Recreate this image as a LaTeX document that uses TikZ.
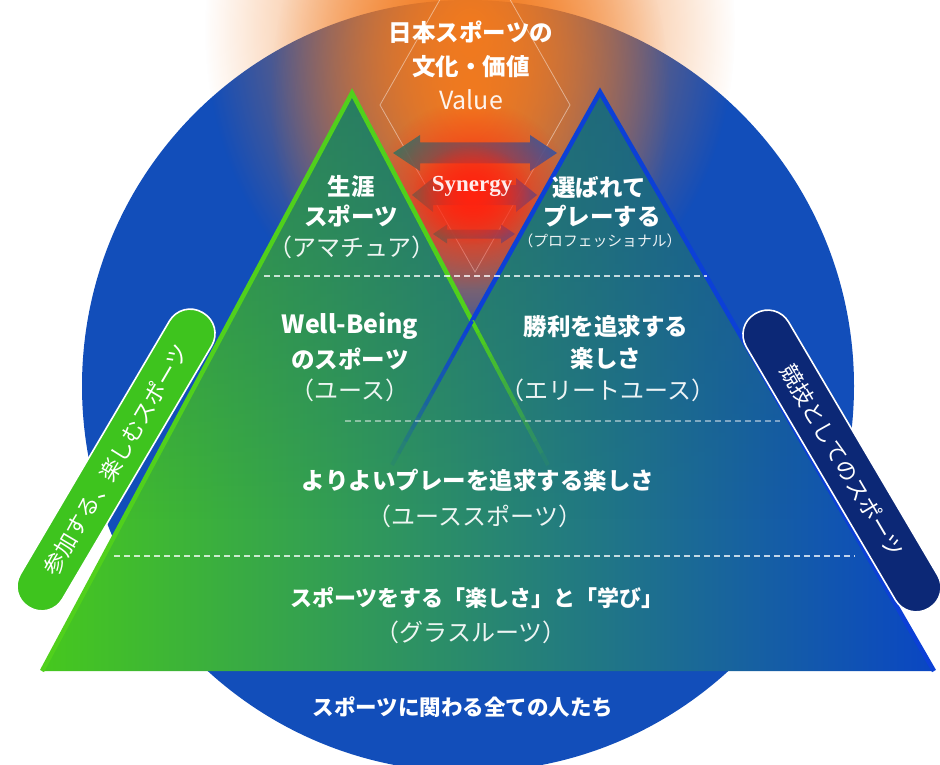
\documentclass[tikz,border=0pt]{standalone}
\usepackage{fontspec}
\setmainfont{Noto Sans CJK JP}
\newfontfamily\synfont{Liberation Serif}
\usetikzlibrary{fadings,calc}
\tikzfading[name=glowfade, inner color=transparent!0, outer color=transparent!100]
\tikzfading[name=topdark, top color=transparent!55, bottom color=transparent!100]
\definecolor{circblue}{RGB}{18,78,186}
\definecolor{glowor}{RGB}{242,122,30}
\definecolor{glowred}{RGB}{255,35,15}
\definecolor{grL}{RGB}{70,200,30}
\definecolor{grM}{RGB}{36,128,98}
\definecolor{grR}{RGB}{10,70,195}
\definecolor{darkteal}{RGB}{30,90,110}
\definecolor{edgegreen}{RGB}{80,208,28}
\definecolor{edgeblue}{RGB}{12,64,214}
\definecolor{arrL}{RGB}{44,122,100}
\definecolor{arrR}{RGB}{48,86,168}
\definecolor{pillgreen}{RGB}{62,196,30}
\definecolor{pillnavy}{RGB}{12,40,118}
\definecolor{synwhite}{RGB}{255,236,236}
\newcommand{\dblarr}[6]{%
  \shade[left color=arrL, right color=arrR, fill opacity=.92]
  (#1,#3) -- ({#1+#4},{#3-#6}) -- ({#1+#4},{#3-#5}) -- ({#2-#4},{#3-#5})
  -- ({#2-#4},{#3-#6}) -- (#2,#3) -- ({#2-#4},{#3+#6}) -- ({#2-#4},{#3+#5})
  -- ({#1+#4},{#3+#5}) -- ({#1+#4},{#3+#6}) -- cycle;}
\begin{document}
\begin{tikzpicture}[x=1pt,y=-1pt,
  txt/.style={text=white, font=\bfseries\fontsize{23.5}{27}\selectfont, inner sep=0pt},
  txtl/.style={text=white, text opacity=.92, font=\fontsize{24}{27}\selectfont, inner sep=0pt},
  txts/.style={text=white, text opacity=.92, font=\fontsize{14.8}{17}\selectfont, inner sep=0pt},
  dashline/.style={white, draw opacity=.75, line width=1.3pt, dash pattern=on 6pt off 4pt},
  pill/.style={draw=white, line width=1.6pt, rounded corners=24pt, minimum width=342pt,
     minimum height=49pt, text=white, font=\fontsize{22}{24}\selectfont, inner sep=0pt}]
\useasboundingbox (0,0) rectangle (940,765);
\clip (0,0) rectangle (940,765);
\fill[white] (0,0) rectangle (940,765);
% circle
\fill[circblue] (468,386) circle[radius=386pt];
% orange glow
\fill[glowor, path fading=glowfade] (470,30) ellipse[x radius=265pt, y radius=320pt];
\fill[glowor, path fading=glowfade] (470,100) ellipse[x radius=200pt, y radius=280pt];
% diamond
\draw[white, draw opacity=.45, line width=.8pt] (380,105) -- (475,272) -- (570,105) -- (475,-62) -- cycle;
% arrows
\dblarr{393}{557}{153}{27}{10.5}{18}
\dblarr{412}{537}{195}{21}{10}{17}
\dblarr{433}{515}{234}{14}{4.5}{9.5}
% red glow
\fill[glowred, path fading=glowfade] (472,195) ellipse[x radius=100pt, y radius=95pt];
\fill[glowred, path fading=glowfade] (472,195) ellipse[x radius=60pt, y radius=50pt];
% triangles
\coordinate (LA) at (352,93);
\coordinate (LB) at (42,671);
\coordinate (RA) at (600,92);
\coordinate (RB) at (934,671);
\coordinate (X) at (472,321);
\coordinate (LF) at (548,465);
\coordinate (RF) at (392,465);
\shade[left color=grL, middle color=grM, right color=grR] (LB) -- (LA) -- (X) -- (RA) -- (RB) -- cycle;
\begin{scope}
  \clip (LB) -- (LA) -- (X) -- (RA) -- (RB) -- cycle;
  \fill[darkteal, path fading=topdark] (0,90) rectangle (940,520);
\end{scope}
\draw[edgegreen, line width=4.5pt] (LB) -- (LA) -- (X);
\draw[edgeblue, line width=4.5pt] (X) -- (RA) -- (RB);
\foreach \i in {0,...,11}{
  \draw[edgegreen, line width=4pt, draw opacity={1-\i/12}] ($(X)!{\i/12}!(LF)$) -- ($(X)!{(\i+1)/12}!(LF)$);
  \draw[edgeblue, line width=4pt, draw opacity={1-\i/12}] ($(X)!{\i/12}!(RF)$) -- ($(X)!{(\i+1)/12}!(RF)$);
}
% dashed lines
\coordinate (d1a) at (264,276); \coordinate (d1b) at (707,276);
\coordinate (d2a) at (345,421); \coordinate (d2b) at (780,421);
\coordinate (d3a) at (114,556); \coordinate (d3b) at (855,556);
\draw[dashline] (d1a) -- (d1b);
\draw[dashline, draw opacity=.45] (d2a) -- (d2b);
\draw[dashline] (d3a) -- (d3b);
% texts
\node[txt] (top1) at (471,32) {日本スポーツの};
\node[txt] (top2) at (471,67) {文化・価値};
\node[txtl, font=\fontsize{25}{28}\selectfont] (top3) at (471,100) {Value};
\node[text=synwhite, font=\synfont\bfseries\fontsize{23}{26}\selectfont, inner sep=0pt] (syn) at (472,186) {Synergy};
\node[txt] (a1) at (351,187) {生涯};
\node[txt] (a2) at (351,216) {スポーツ};
\node[txtl] (a3) at (352,247) {（アマチュア）};
\node[txt] (b1) at (599,187) {選ばれて};
\node[txt] (b2) at (602,216) {プレーする};
\node[txts] (b3) at (600,241) {（プロフェッショナル）};
\node[txt, font=\bfseries\fontsize{25}{28}\selectfont] (c1) at (350,326) {Well-Being};
\node[txt] (c2) at (350,359) {のスポーツ};
\node[txtl] (c3) at (350,390) {（ユース）};
\node[txt] (d1) at (606,326) {勝利を追求する};
\node[txt] (d2) at (606,359) {楽しさ};
\node[txtl] (d3) at (608,390) {（エリートユース）};
\node[txt] (e1) at (478,480) {よりよいプレーを追求する楽しさ};
\node[txtl] (e2) at (475,516) {（ユーススポーツ）};
\node[txt, font=\bfseries\fontsize{22}{26}\selectfont] (f1) at (477,598) {スポーツをする「楽しさ」と「学び」};
\node[txtl] (f2) at (471,632) {（グラスルーツ）};
\node[txt, font=\bfseries\fontsize{21.5}{24}\selectfont] (g1) at (463,707) {スポーツに関わる全ての人たち};
% pills
\node[pill, fill=pillgreen, rotate=59.5] (pl) at (116,460) {参加する、楽しむスポーツ};
\node[pill, fill=pillnavy, rotate=-59.5] (pr) at (842,461) {競技としてのスポーツ};
\end{tikzpicture}
\end{document}
